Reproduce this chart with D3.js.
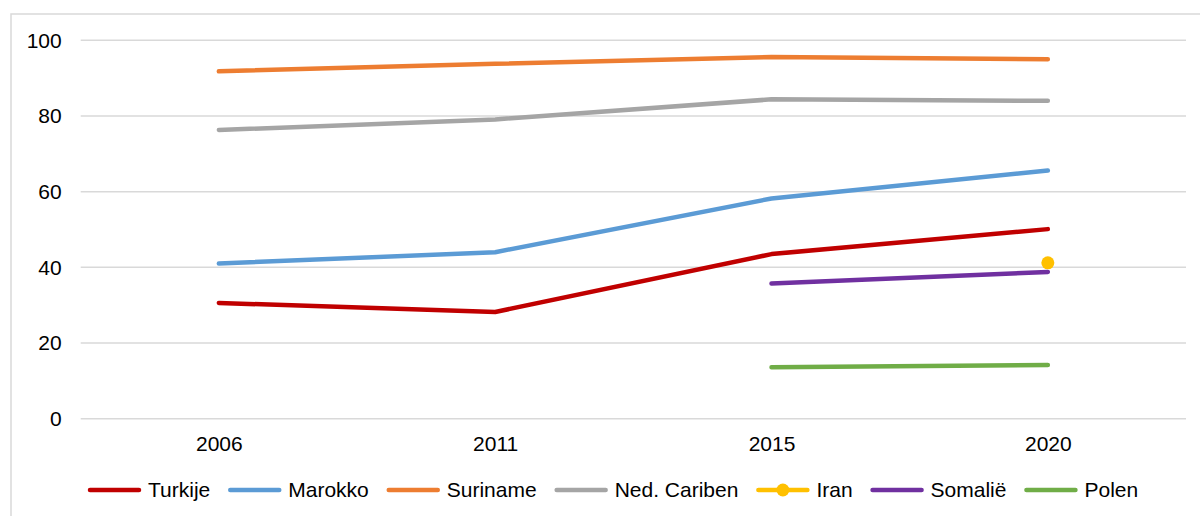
<!DOCTYPE html>
<meta charset="utf-8">
<script src="https://d3js.org/d3.v7.min.js"></script>
<style>
  body { margin: 0; background: #fff; }
  text { font-family: "Liberation Sans", Arial, sans-serif; fill: #000; }
</style>
<div id="chart"></div>
<script>
// data
var years = ["2006", "2011", "2015", "2020"];
var turkije = [30.6, 28.2, 43.5, 50.1];
var marokko = [41.0, 44.0, 58.2, 65.6];
var suriname = [91.8, 93.8, 95.6, 95.0];
var nedCariben = [76.3, 79.1, 84.4, 84.0];
var iran = [null, null, null, 41.2];
var somalie = [null, null, 35.7, 38.8];
var polen = [null, null, 13.6, 14.2];
var yTicks = [0, 20, 40, 60, 80, 100];

var series = [
  {name: "Turkije", values: turkije, color: "#c00000"},
  {name: "Marokko", values: marokko, color: "#5b9bd5"},
  {name: "Suriname", values: suriname, color: "#ed7d31"},
  {name: "Ned. Cariben", values: nedCariben, color: "#a5a5a5"},
  {name: "Iran", values: iran, color: "#ffc000", marker: true},
  {name: "Somalië", values: somalie, color: "#7030a0"},
  {name: "Polen", values: polen, color: "#70ad47"}
];

var W = 1200, H = 516;
var fs = "21px";
var svg = d3.select("#chart").append("svg")
  .attr("width", W).attr("height", H);

// chart border
svg.append("rect")
  .attr("x", 11).attr("y", 14)
  .attr("width", 1210).attr("height", 520)
  .attr("fill", "none").attr("stroke", "#d9d9d9").attr("stroke-width", 1.5);

var x = d3.scalePoint().domain(years).range([80.7, 1186]).padding(0.5);
var y = d3.scaleLinear().domain([0, 100]).range([418.7, 40.3]);

// gridlines
svg.append("g").selectAll("line")
  .data(yTicks).enter().append("line")
    .attr("x1", 80.7).attr("x2", 1186)
    .attr("y1", function(d) { return y(d); })
    .attr("y2", function(d) { return y(d); })
    .attr("stroke", "#d9d9d9").attr("stroke-width", 1.5);

// y axis
var yAxis = svg.append("g")
  .attr("transform", "translate(80.7,0)")
  .call(d3.axisLeft(y).tickValues(yTicks).tickSize(0).tickPadding(19));
yAxis.select(".domain").remove();
yAxis.selectAll("text").style("font-size", fs)
  .style("font-family", "Liberation Sans, Arial, sans-serif").attr("fill", "#000");

// x axis
var xAxis = svg.append("g")
  .attr("transform", "translate(0," + y(0) + ")")
  .call(d3.axisBottom(x).tickSize(0).tickPadding(17));
xAxis.select(".domain").remove();
xAxis.selectAll("text").style("font-size", fs)
  .style("font-family", "Liberation Sans, Arial, sans-serif").attr("fill", "#000");

// lines
var line = d3.line()
  .defined(function(d) { return d != null; })
  .x(function(d, i) { return x(years[i]); })
  .y(function(d) { return y(d); });

series.forEach(function(s) {
  var n = s.values.filter(function(v) { return v != null; }).length;
  if (n > 1) {
    svg.append("path")
      .datum(s.values)
      .attr("d", line)
      .attr("fill", "none")
      .attr("stroke", s.color)
      .attr("stroke-width", 4.5)
      .attr("stroke-linecap", "round")
      .attr("stroke-linejoin", "round");
  }
  if (s.marker) {
    svg.append("g").selectAll("circle")
      .data(s.values.map(function(v, i) { return {v: v, i: i}; })
        .filter(function(d) { return d.v != null; }))
      .enter().append("circle")
        .attr("cx", function(d) { return x(years[d.i]); })
        .attr("cy", function(d) { return y(d.v); })
        .attr("r", 6.5)
        .attr("fill", s.color);
  }
});

// legend
var legend = svg.append("g");
var lx = 90, ly = 490;
series.forEach(function(s) {
  var g = legend.append("g").attr("transform", "translate(" + lx + "," + ly + ")");
  g.append("line")
    .attr("x1", 0).attr("x2", 49)
    .attr("stroke", s.color).attr("stroke-width", 4.5)
    .attr("stroke-linecap", "round");
  if (s.marker) {
    g.append("circle").attr("cx", 24.5).attr("r", 6.5).attr("fill", s.color);
  }
  var t = g.append("text")
    .attr("x", 58).attr("dy", "0.35em")
    .style("font-size", fs)
    .text(s.name);
  lx += 58 + t.node().getComputedTextLength() + 20;
});
</script>
